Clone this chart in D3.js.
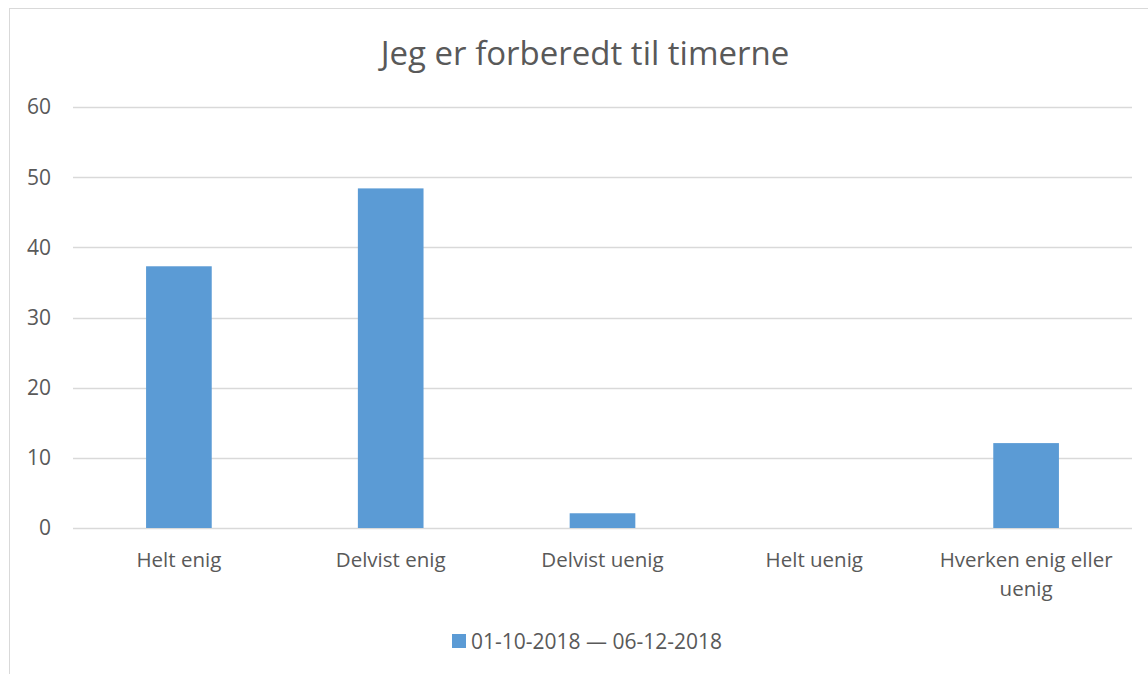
<!DOCTYPE html>
<html lang="no">
<head>
<meta charset="UTF-8">
<title>Jeg er forberedt til timerne</title>
<script src="https://cdn.jsdelivr.net/npm/d3@7"></script>
<style>
  body { margin: 0; background: #fff; }
  text { font-family: "Open Sans", "Noto Sans", sans-serif; fill: #595959; }
</style>
</head>
<body>
<script>
const categories = ['Helt enig', 'Delvist enig', 'Delvist uenig', 'Helt uenig', 'Hverken enig eller uenig'];
const values = [37.3, 48.4, 2.1, 0, 12.1];
const yTicks = [0, 10, 20, 30, 40, 50, 60];
const seriesName = '01-10-2018 \u2014 06-12-2018';
const title = 'Jeg er forberedt til timerne';

const W = 1148, H = 674;
const margin = { top: 107, right: 16, bottom: 146, left: 73 };
const color = '#5b9bd5';

const svg = d3.select('body').append('svg')
  .attr('width', W).attr('height', H);

// chart border
svg.append('rect')
  .attr('x', 9.5).attr('y', 8.5)
  .attr('width', W + 20).attr('height', H + 20)
  .attr('fill', 'none').attr('stroke', '#d9d9d9');

const x = d3.scaleBand()
  .domain(categories)
  .range([margin.left, W - margin.right])
  .paddingInner(0.69).paddingOuter(0.345);

const y = d3.scaleLinear()
  .domain([0, 60])
  .range([H - margin.bottom, margin.top]);

// gridlines
svg.append('g')
  .selectAll('line')
  .data(yTicks)
  .enter().append('line')
  .attr('x1', margin.left).attr('x2', W - margin.right)
  .attr('y1', d => Math.round(y(d)) + 0.5).attr('y2', d => Math.round(y(d)) + 0.5)
  .attr('stroke', '#d9d9d9').attr('stroke-width', 1.5);

// y labels
svg.append('g')
  .selectAll('text')
  .data(yTicks)
  .enter().append('text')
  .attr('x', 51).attr('y', d => y(d))
  .attr('dy', '0.35em')
  .attr('text-anchor', 'end')
  .style('font-size', '21px')
  .text(d => d);

// bars
svg.append('g')
  .selectAll('rect')
  .data(values)
  .enter().append('rect')
  .attr('x', (d, i) => x(categories[i]))
  .attr('width', x.bandwidth())
  .attr('y', d => y(d))
  .attr('height', d => y(0) - y(d))
  .attr('fill', color);

// x labels (wrapped)
const xl = svg.append('g')
  .selectAll('text')
  .data(categories)
  .enter().append('text')
  .attr('x', d => x(d) + x.bandwidth() / 2)
  .attr('y', 567)
  .attr('text-anchor', 'middle')
  .style('font-size', '20.5px');

xl.each(function (d) {
  const lines = d === 'Hverken enig eller uenig' ? ['Hverken enig eller', 'uenig'] : [d];
  const t = d3.select(this);
  lines.forEach((l, j) => {
    t.append('tspan')
      .attr('x', t.attr('x'))
      .attr('dy', j === 0 ? 0 : 29)
      .text(l);
  });
});

// title
svg.append('text')
  .attr('x', 585).attr('y', 65)
  .attr('text-anchor', 'middle')
  .style('font-size', '33px')
  .text(title);

// legend
const lg = svg.append('g');
lg.append('rect')
  .attr('x', 452).attr('y', 634)
  .attr('width', 14).attr('height', 14)
  .attr('fill', color);
lg.append('text')
  .attr('x', 471).attr('y', 649)
  .style('font-size', '21px')
  .text(seriesName);
</script>
</body>
</html>
